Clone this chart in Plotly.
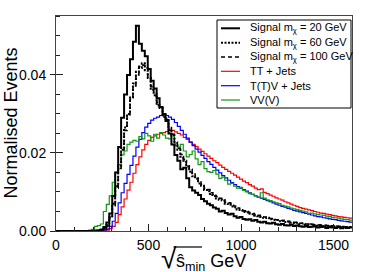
import numpy as np
import plotly.graph_objects as go

# ---------------- data ----------------
BIN_WIDTH = 16
N_BINS = 100
bin_edges = list(np.arange(0, BIN_WIDTH * N_BINS + 1, BIN_WIDTH))

sig20 = [0]*13 + [
    0.0001, 0.0002, 0.0004, 0.0010, 0.0022, 0.0045, 0.0090, 0.0150, 0.0215, 0.0290,
    0.0350, 0.0400, 0.0440, 0.0485, 0.0526, 0.0480, 0.0462, 0.0448, 0.0415, 0.0385,
    0.0365, 0.0340, 0.0318, 0.0300, 0.0282, 0.0250, 0.0222, 0.0195, 0.0180, 0.0158,
    0.0162, 0.0135, 0.0112, 0.0104, 0.0098, 0.0092, 0.0082, 0.0076, 0.0070, 0.0066,
    0.0060, 0.0057, 0.0050, 0.0052, 0.0046, 0.0042, 0.0044, 0.0038, 0.0034, 0.0036,
    0.0031,
    0.0029, 0.0030, 0.0026, 0.0028, 0.0024, 0.0022, 0.0024, 0.0020, 0.0019, 0.0021,
    0.0017, 0.0016, 0.0018, 0.0015, 0.0014, 0.0016, 0.0013, 0.0014, 0.0012, 0.0011,
    0.0013, 0.0010, 0.0011, 0.0012, 0.0009, 0.0010, 0.0011, 0.0008, 0.0010, 0.0009,
    0.0008, 0.0010, 0.0007, 0.0009, 0.0008, 0.0009]

sig60 = [0]*15 + [
    0.0002, 0.0006, 0.0015, 0.0035, 0.0070, 0.0115, 0.0168, 0.0212, 0.0265, 0.0300,
    0.0342, 0.0378, 0.0408, 0.0418, 0.0430, 0.0412, 0.0392, 0.0362, 0.0348, 0.0322,
    0.0315, 0.0292, 0.0288, 0.0260, 0.0245, 0.0220, 0.0208, 0.0190, 0.0180, 0.0165,
    0.0152, 0.0140, 0.0134, 0.0122, 0.0116, 0.0105, 0.0102, 0.0092, 0.0090, 0.0083,
    0.0080, 0.0078, 0.0070, 0.0069, 0.0063, 0.0061, 0.0055, 0.0054, 0.0049,
    0.0048, 0.0044, 0.0043, 0.0039, 0.0038, 0.0036, 0.0033, 0.0034, 0.0030, 0.0029,
    0.0028, 0.0025, 0.0026, 0.0023, 0.0024, 0.0021, 0.0020, 0.0021, 0.0018, 0.0019,
    0.0017, 0.0016, 0.0017, 0.0015, 0.0014, 0.0015, 0.0013, 0.0014, 0.0012, 0.0013,
    0.0011, 0.0012, 0.0010, 0.0011, 0.0010, 0.0010]

sig100 = [0]*15 + [
    0.0001, 0.0005, 0.0013, 0.0032, 0.0065, 0.0110, 0.0160, 0.0208, 0.0258, 0.0298,
    0.0338, 0.0372, 0.0400, 0.0422, 0.0425, 0.0418, 0.0395, 0.0370, 0.0352, 0.0330,
    0.0318, 0.0298, 0.0285, 0.0265, 0.0248, 0.0228, 0.0212, 0.0196, 0.0184, 0.0170,
    0.0158, 0.0146, 0.0138, 0.0128, 0.0120, 0.0110, 0.0106, 0.0098, 0.0094, 0.0088,
    0.0084, 0.0080, 0.0074, 0.0072, 0.0066, 0.0064, 0.0059, 0.0056, 0.0052,
    0.0050, 0.0047, 0.0045, 0.0042, 0.0040, 0.0038, 0.0036, 0.0035, 0.0032, 0.0031,
    0.0029, 0.0028, 0.0027, 0.0025, 0.0025, 0.0023, 0.0022, 0.0022, 0.0020, 0.0020,
    0.0018, 0.0018, 0.0017, 0.0016, 0.0015, 0.0015, 0.0014, 0.0014, 0.0013, 0.0013,
    0.0012, 0.0012, 0.0011, 0.0011, 0.0010, 0.0010]

tt_jets = [0]*17 + [
    0.0002, 0.0006, 0.0012, 0.0022, 0.0042, 0.0062, 0.0082, 0.0105, 0.0125, 0.0148,
    0.0170, 0.0190, 0.0208, 0.0222, 0.0232, 0.0240, 0.0244, 0.0248, 0.0250, 0.0252,
    0.0255, 0.0257, 0.0258, 0.0254, 0.0250, 0.0246, 0.0240, 0.0235, 0.0228, 0.0222,
    0.0216, 0.0210, 0.0204, 0.0198, 0.0192, 0.0186, 0.0180, 0.0175, 0.0169, 0.0163,
    0.0158, 0.0153, 0.0148, 0.0143, 0.0138, 0.0133, 0.0128,
    0.0124, 0.0119, 0.0115, 0.0110, 0.0106, 0.0108, 0.0099, 0.0096, 0.0092, 0.0089,
    0.0085, 0.0082, 0.0079, 0.0075, 0.0072, 0.0069, 0.0066, 0.0063, 0.0060, 0.0058,
    0.0056, 0.0054, 0.0052, 0.0050, 0.0048, 0.0046, 0.0045, 0.0043, 0.0042, 0.0040,
    0.0039, 0.0037, 0.0036, 0.0035, 0.0034, 0.0033]

ttv_jets = [0]*16 + [
    0.0002, 0.0005, 0.0012, 0.0025, 0.0045, 0.0072, 0.0098, 0.0122, 0.0145, 0.0168,
    0.0192, 0.0215, 0.0235, 0.0252, 0.0266, 0.0276, 0.0284, 0.0289, 0.0292, 0.0296,
    0.0298, 0.0296, 0.0292, 0.0286, 0.0278, 0.0268, 0.0258, 0.0248, 0.0238, 0.0228,
    0.0219, 0.0210, 0.0202, 0.0194, 0.0186, 0.0178, 0.0171, 0.0163, 0.0156, 0.0149,
    0.0142, 0.0136, 0.0130, 0.0124, 0.0119, 0.0114, 0.0110, 0.0106,
    0.0102, 0.0098, 0.0094, 0.0090, 0.0087, 0.0084, 0.0081, 0.0078, 0.0075, 0.0072,
    0.0069, 0.0066, 0.0063, 0.0061, 0.0058, 0.0056, 0.0053, 0.0051, 0.0049, 0.0047,
    0.0045, 0.0043, 0.0041, 0.0039, 0.0037, 0.0036, 0.0034, 0.0033, 0.0031, 0.0030,
    0.0029, 0.0027, 0.0026, 0.0025, 0.0024, 0.0023]

vvv = [0]*11 + [
    0.0002, 0.0004, 0.0012, 0.0014, 0.0018, 0.0050, 0.0068, 0.0090, 0.0125, 0.0150,
    0.0170, 0.0195, 0.0205, 0.0222, 0.0228, 0.0232, 0.0230, 0.0242, 0.0236, 0.0250,
    0.0244, 0.0230, 0.0248, 0.0238, 0.0252, 0.0246, 0.0238, 0.0236, 0.0248, 0.0225,
    0.0215, 0.0222, 0.0205, 0.0190, 0.0196, 0.0205, 0.0185, 0.0170, 0.0178, 0.0160,
    0.0152, 0.0150, 0.0155, 0.0146, 0.0135, 0.0138, 0.0130, 0.0120, 0.0122, 0.0115,
    0.0110, 0.0112, 0.0104,
    0.0100, 0.0096, 0.0094, 0.0090, 0.0086, 0.0098, 0.0084, 0.0080, 0.0078, 0.0075,
    0.0072, 0.0070, 0.0066, 0.0064, 0.0062, 0.0059, 0.0057, 0.0055, 0.0053, 0.0051,
    0.0049, 0.0045, 0.0046, 0.0044, 0.0042, 0.0041, 0.0040, 0.0038, 0.0037, 0.0035,
    0.0034, 0.0033, 0.0031, 0.0030, 0.0029, 0.0028]

series_names = ["Signal m<sub>χ</sub> = 20 GeV", "Signal m<sub>χ</sub> = 60 GeV",
                "Signal m<sub>χ</sub> = 100 GeV", "TT + Jets", "T(T)V + Jets", "VV(V)"]

x_tick_labels = ["0", "500", "1000", "1500"]
y_tick_labels = ["0.00", "0.02", "0.04"]

# ---------------- styling ----------------
FONT = "Liberation Sans, Arial, Helvetica, sans-serif"
styles = [
    dict(color="black", width=2.0, dash="solid"),
    dict(color="black", width=2.0, dash="2px,1.5px"),
    dict(color="black", width=1.6, dash="4px,3px"),
    dict(color="#ff0000", width=1.2, dash="solid"),
    dict(color="#0000ff", width=1.2, dash="solid"),
    dict(color="#119911", width=1.2, dash="solid"),
]
all_series = [sig20, sig60, sig100, tt_jets, ttv_jets, vvv]

fig = go.Figure()
draw_order = [3, 4, 5, 2, 1, 0]
for k in draw_order:
    vals = all_series[k]
    assert len(vals) == N_BINS, (k, len(vals))
    fig.add_trace(go.Scatter(
        x=bin_edges, y=list(vals) + [vals[-1]],
        mode="lines", line_shape="hv", line=styles[k],
        name=series_names[k], showlegend=False, hoverinfo="skip"))

# overlay axis to give the major y ticks an inside part too
fig.add_trace(go.Scatter(x=[], y=[], yaxis="y2", showlegend=False))

L, R, T, B = 56, 22, 16, 41
W, H = 374, 272
PW, PH = W - L - R, H - T - B


def px(xp):
    return (xp - L) / PW


def py(yp):
    return (T + PH - yp) / PH


fig.update_layout(
    width=W, height=H,
    margin=dict(l=L, r=R, t=T, b=B),
    paper_bgcolor="white", plot_bgcolor="white",
    font=dict(family=FONT, color="black"),
    xaxis=dict(range=[0, 1600], showline=True, mirror=True, linecolor="#444", linewidth=1,
               showgrid=False, zeroline=False,
               tickvals=[0, 500, 1000, 1500], ticktext=x_tick_labels,
               ticks="inside", ticklen=7, tickcolor="#222",
               minor=dict(dtick=100, tick0=0, ticks="inside", ticklen=4, tickcolor="#222"),
               tickfont=dict(size=14, family=FONT), ticklabelstandoff=1),
    yaxis=dict(range=[0, 0.0551], showline=True, mirror=True, linecolor="#444", linewidth=1,
               showgrid=False, zeroline=False,
               tickvals=[0, 0.02, 0.04], ticktext=y_tick_labels,
               ticks="outside", ticklen=5, tickcolor="#222",
               minor=dict(dtick=0.005, tick0=0, ticks="inside", ticklen=4, tickcolor="#222"),
               tickfont=dict(size=14, family=FONT), ticklabelstandoff=1),
    yaxis2=dict(range=[0, 0.0551], overlaying="y", side="left", anchor="x",
                showline=False, showgrid=False, zeroline=False,
                tickvals=[0.02, 0.04], ticks="inside", ticklen=7, tickcolor="#222",
                showticklabels=False),
)

# axis titles
fig.add_annotation(xref="paper", yref="paper", x=px(10), y=py(123.5),
                   text="Normalised Events", textangle=-90, showarrow=False,
                   font=dict(size=18, family=FONT), xanchor="center", yanchor="middle")
fig.add_annotation(xref="paper", yref="paper", x=px(169), y=py(258),
                   text="√", showarrow=False, font=dict(size=28, family=FONT),
                   xanchor="center", yanchor="middle")
fig.add_annotation(xref="paper", yref="paper", x=px(174), y=py(262),
                   text="ŝ<sub>min</sub> GeV", showarrow=False,
                   font=dict(size=18, family=FONT), xanchor="left", yanchor="middle")
fig.add_shape(type="line", xref="paper", yref="paper",
              x0=px(173.5), x1=px(202), y0=py(247), y1=py(247),
              line=dict(color="black", width=1.2))

# legend (box, line samples, labels)
fig.add_shape(type="rect", xref="paper", yref="paper",
              x0=px(217), x1=px(351), y0=py(108), y1=py(20),
              line=dict(color="black", width=1), fillcolor="white", layer="above")
rows = [28.3, 42.7, 57.0, 71.3, 85.7, 100.0]
for k, yr in enumerate(rows):
    st = styles[k]
    fig.add_shape(type="line", xref="paper", yref="paper",
                  x0=px(221), x1=px(240), y0=py(yr), y1=py(yr),
                  line=dict(color=st["color"], width=st["width"], dash=st["dash"]),
                  layer="above")
    fig.add_annotation(xref="paper", yref="paper", x=px(248), y=py(yr),
                       text=series_names[k], showarrow=False,
                       font=dict(size=11, family=FONT), xanchor="left", yanchor="middle")

fig.write_html("out.html", config={"displayModeBar": False},
               post_script="document.body.style.margin='0';document.body.style.padding='0';")
